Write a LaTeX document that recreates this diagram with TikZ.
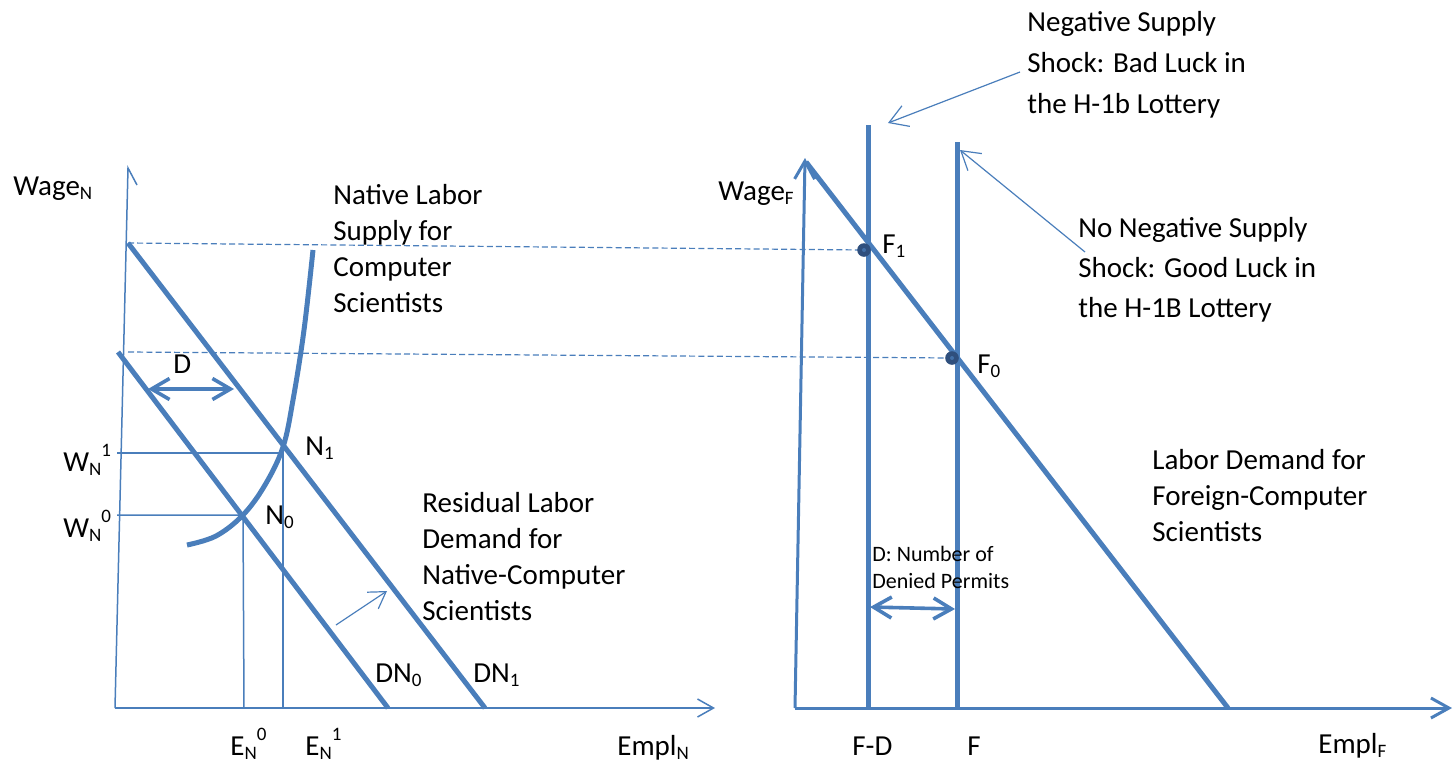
\documentclass[tikz,border=0pt]{standalone}
\usepackage{fontspec}
\setmainfont{Carlito}
\usetikzlibrary{arrows.meta}
\definecolor{ln}{RGB}{74,126,187}
\definecolor{dotc}{RGB}{47,79,125}
\newcommand{\sbs}[1]{\raisebox{-0.3ex}{\fontsize{9.5}{10}\selectfont #1}}
\newcommand{\sps}[1]{\raisebox{1.05ex}{\fontsize{9.5}{10}\selectfont #1}}
\begin{document}
\begin{tikzpicture}[x=0.5pt,y=-0.5pt,
  font=\fontsize{14.5}{18}\selectfont,
  lbl/.style={anchor=base west, inner sep=0pt},
  para/.style={anchor=north west, inner sep=0pt, align=left},
  thinax/.style={draw=ln, line width=0.75pt},
  thickax/.style={draw=ln, line width=1.5pt},
  curve/.style={draw=ln, line width=2.5pt},
  guide/.style={draw=ln, line width=0.75pt},
  dashguide/.style={draw=ln, line width=0.6pt, dash pattern=on 3pt off 1.6pt},
  barb/.tip={Straight Barb[length=8pt,width=9pt]},
  bigbarb/.tip={Straight Barb[length=9pt,width=10.5pt]},
  note/.style={draw=ln, line width=0.6pt, -{Straight Barb[length=9pt,width=11pt]}},
  dbl/.style={draw=ln, line width=1.8pt, bigbarb-bigbarb}
]
\path[use as bounding box] (0,0) rectangle (1454,766);

% ---------- left panel coordinates ----------
\coordinate (O1) at (115,708);
\coordinate (Ytop1) at (128,168);
\coordinate (Yhook) at (137,185);
\coordinate (Xend1) at (715,708);
\coordinate (DN0top) at (118,352);
\coordinate (DN0bot) at (388,708);
\coordinate (DN1top) at (128,243);
\coordinate (DN1bot) at (485,708);
\coordinate (N0p) at (243,515);
\coordinate (N1p) at (283,450);
\coordinate (W1l) at (117,453);
\coordinate (W1r) at (283,453);
\coordinate (W0l) at (117,515);
\coordinate (E0b) at (244,708);
\coordinate (E1b) at (283,708);
\coordinate (Dl) at (148,389);
\coordinate (Dr) at (234,389);
\coordinate (Sh0) at (336,625);
\coordinate (Sh1) at (387,591);

% axes left
\draw[thinax] (O1) -- (Ytop1) -- (Yhook);
\draw[thinax, -barb] (O1) -- (Xend1);

% guides
\draw[guide] (W1l) -- (W1r) -- (E1b);
\draw[guide] (W0l) -- (N0p) -- (E0b);

% demand curves
\draw[curve] (DN0top) -- (DN0bot);
\draw[curve] (DN1top) -- (DN1bot);

% supply curve
\draw[curve] plot[smooth, tension=0.6] coordinates {(187,545) (216,536) (243,515) (265,485) (283,447) (293,400) (304,330) (313,250)};

% D arrow and shift arrow
\draw[dbl] (Dl) -- (Dr);
\draw[note, -{Straight Barb[length=8pt,width=10pt]}] (Sh0) -- (Sh1);

% ---------- right panel coordinates ----------
\coordinate (O2) at (795,708);
\coordinate (Ytop2) at (805,158);
\coordinate (Xend2) at (1452,708);
\coordinate (Dtop) at (806,162);
\coordinate (Dbot) at (1228,708);
\coordinate (FDtop) at (868,125);
\coordinate (FDbot) at (868,708);
\coordinate (Ftop) at (957,142);
\coordinate (Fbot) at (957,708);
\coordinate (F1p) at (864,250);
\coordinate (F0p) at (952,358);
\coordinate (PDl) at (870,607);
\coordinate (PDr) at (955,609);

% dashed links
\draw[dashguide] (DN1top) -- (F1p);
\draw[dashguide] (128,352) -- (F0p);

% axes right
\draw[thickax, -{Straight Barb[length=9pt,width=10pt]}] (O2) -- (Ytop2);
\draw[thickax, -{Straight Barb[length=9pt,width=10pt]}] (O2) -- (Xend2);

% verticals and demand
\draw[curve] (FDtop) -- (FDbot);
\draw[curve] (Ftop) -- (Fbot);
\draw[curve] (Dtop) -- (Dbot);

% dots
\fill[dotc] (F1p) circle[radius=3.4pt];
\fill[dotc] (F0p) circle[radius=3.4pt];
\fill[ln!70!dotc] (F1p) circle[radius=1pt];
\fill[ln!70!dotc] (F0p) circle[radius=1pt];

\draw[dbl] (PDl) -- (PDr);

% ---------- labels left ----------
\node[lbl] (wageN) at (13,195) {Wage\sbs{N}};
\node[para] (supply) at (333,184) {Native Labor\\Supply for\\Computer\\Scientists};
\node[lbl] (Dlab) at (173,373) {D};
\node[lbl] (N1lab) at (305,455) {N\sbs{1}};
\node[lbl] (N0lab) at (265,524) {N\sbs{0}};
\node[lbl] (W1lab) at (63,471) {W\sbs{N}\sps{1}};
\node[lbl] (W0lab) at (63,537) {W\sbs{N}\sps{0}};
\node[para] (resid) at (422,492) {Residual Labor\\Demand for\\Native-Computer\\Scientists};
\node[lbl] (DN0lab) at (375,682) {DN\sbs{0}};
\node[lbl] (DN1lab) at (473,682) {DN\sbs{1}};
\node[lbl] (E0lab) at (230,755) {E\sbs{N}\sps{0}};
\node[lbl] (E1lab) at (305,755) {E\sbs{N}\sps{1}};
\node[lbl] (emplN) at (617,755) {Empl\sbs{N}};

% ---------- labels right ----------
\node[para, font=\fontsize{14.5}{20.5}\selectfont] (neg) at (1027,11) {Negative Supply\\Shock: Bad Luck in\\the H-1b Lottery};
\node[para, font=\fontsize{14.5}{20}\selectfont] (noneg) at (1078,217) {No Negative Supply\\Shock: Good Luck in\\the H-1B Lottery};
\node[para] (labdem) at (1152,449) {Labor Demand for\\Foreign-Computer\\Scientists};
\node[para, font=\fontsize{11}{13.5}\selectfont] (denied) at (872,546) {D: Number of\\Denied Permits};
\node[lbl] (wageF) at (718,200) {Wage\sbs{F}};
\node[lbl] (F1lab) at (882,253) {F\sbs{1}};
\node[lbl] (F0lab) at (977,373) {F\sbs{0}};
\node[lbl] (FDlab) at (852,755) {F-D};
\node[lbl] (Flab) at (967,755) {F};
\node[lbl] (emplF) at (1318,753) {Empl\sbs{F}};

% annotation arrows
\coordinate (negS) at (1020,72);
\coordinate (negE) at (888,123);
\coordinate (nonS) at (1085,252);
\coordinate (nonE) at (960,150);
\draw[note] (negS) -- (negE);
\draw[note] (nonS) -- (nonE);
\end{tikzpicture}
\end{document}
